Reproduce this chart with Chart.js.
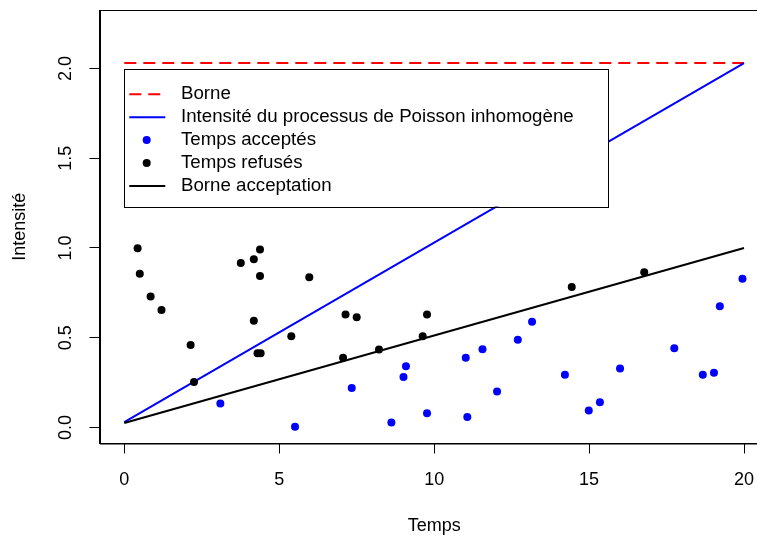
<!DOCTYPE html>
<html>
<head>
<meta charset="utf-8">
<script src="https://cdn.jsdelivr.net/npm/chart.js@4.4.1/dist/chart.umd.min.js"></script>
<style>
  html, body { margin: 0; padding: 0; background: #fff; overflow: hidden; }
  #wrap { width: 757px; height: 537px; overflow: hidden; }
</style>
</head>
<body>
<div id="wrap"><canvas id="graph" width="775" height="537"></canvas></div>
<script>
// --- données ---
const tempsAcceptesX = [3.10, 5.51, 7.34, 8.62, 9.01, 9.09, 9.77, 11.02, 11.07, 11.56, 12.03, 12.70, 13.16,
                        14.22, 14.99, 15.35, 16.00, 17.75, 18.67, 19.03, 19.22, 19.95];
const tempsAcceptesY = [0.133, 0.004, 0.220, 0.027, 0.281, 0.341, 0.079, 0.389, 0.058, 0.436, 0.200, 0.489, 0.589,
                        0.294, 0.094, 0.140, 0.328, 0.441, 0.294, 0.305, 0.675, 0.829];

const tempsRefusesX = [0.43, 0.50, 0.85, 1.20, 2.14, 2.25, 3.76, 4.18, 4.38, 4.38, 4.18, 4.30, 4.40, 5.39, 5.97,
                       7.06, 7.14, 7.50, 8.22, 9.63, 9.77, 14.44, 16.78];
const tempsRefusesY = [0.998, 0.857, 0.729, 0.655, 0.460, 0.253, 0.916, 0.937, 0.991, 0.844, 0.595, 0.413, 0.413, 0.508, 0.837,
                       0.389, 0.629, 0.614, 0.434, 0.508, 0.629, 0.783, 0.865];

const intensiteT = [0, 20];
const intensiteY = [0.03, 2.03];
const borne = 2.03;
const borneAcceptY = [0.025, 1.0];

const xTicks = [0, 5, 10, 15, 20];
const yTicks = [0, 0.5, 1, 1.5, 2];

const legendeTextes = ["Borne", "Intensité du processus de Poisson inhomogène", "Temps acceptés", "Temps refusés", "Borne acceptation"];

const police = '"Liberation Sans", Arial, sans-serif';

function points(xs, ys) {
    return xs.map((x, i) => ({ x: x, y: ys[i] }));
}

// légende style R, posée en (0, 2.0)
const legendeR = {
    id: 'legendeR',
    afterDatasetsDraw(chart) {
        const ctx = chart.ctx;
        const x0 = chart.scales.x.getPixelForValue(0);
        const y0 = chart.scales.y.getPixelForValue(2.0);
        const w = 484, h = 138;
        ctx.save();
        ctx.fillStyle = '#fff';
        ctx.fillRect(x0, y0, w, h);
        ctx.strokeStyle = '#000';
        ctx.lineWidth = 1;
        ctx.strokeRect(Math.round(x0) + 0.5, Math.round(y0) + 0.5, w, h);

        ctx.font = '18.7px ' + police;
        ctx.textBaseline = 'middle';
        ctx.textAlign = 'left';
        legendeTextes.forEach((txt, i) => {
            const y = y0 + 25.8 + i * 22.9;
            const ds = chart.data.datasets.find(d => d.label === txt);
            if (ds.showLine) {
                ctx.beginPath();
                ctx.strokeStyle = ds.borderColor;
                ctx.lineWidth = 2;
                ctx.setLineDash(ds.borderDash || []);
                ctx.moveTo(x0 + 5, y);
                ctx.lineTo(x0 + 41, y);
                ctx.stroke();
                ctx.setLineDash([]);
            } else {
                ctx.beginPath();
                ctx.fillStyle = ds.backgroundColor;
                ctx.arc(x0 + 22.4, y, 4, 0, Math.PI * 2);
                ctx.fill();
            }
            ctx.fillStyle = '#000';
            ctx.fillText(txt, x0 + 56.7, y);
        });
        ctx.restore();
    },
    afterDraw(chart) {
        // cadre complet autour du graphe
        const a = chart.chartArea;
        const ctx = chart.ctx;
        ctx.save();
        ctx.strokeStyle = '#000';
        ctx.lineWidth = 1;
        ctx.strokeRect(Math.round(a.left) + 0.5, Math.round(a.top) + 0.5, a.right - a.left, a.bottom - a.top);
        ctx.restore();
    }
};

const ctx = document.getElementById('graph').getContext('2d');
new Chart(ctx, {
    type: 'scatter',
    data: {
        datasets: [
            {
                label: 'Temps acceptés',
                data: points(tempsAcceptesX, tempsAcceptesY),
                backgroundColor: '#0000ff',
                borderWidth: 0,
                pointRadius: 4,
                order: 1
            },
            {
                label: 'Temps refusés',
                data: points(tempsRefusesX, tempsRefusesY),
                backgroundColor: '#000000',
                borderWidth: 0,
                pointRadius: 4,
                order: 2
            },
            {
                label: 'Borne acceptation',
                data: points(intensiteT, borneAcceptY),
                showLine: true,
                borderColor: '#000000',
                borderWidth: 2,
                pointRadius: 0,
                order: 3
            },
            {
                label: 'Intensité du processus de Poisson inhomogène',
                data: points(intensiteT, intensiteY),
                showLine: true,
                borderColor: '#0000ff',
                borderWidth: 2,
                pointRadius: 0,
                order: 4
            },
            {
                label: 'Borne',
                data: points(intensiteT, [borne, borne]),
                showLine: true,
                borderColor: '#ff0000',
                borderWidth: 2,
                borderDash: [12, 7],
                pointRadius: 0,
                order: 5
            }
        ]
    },
    options: {
        responsive: false,
        animation: false,
        devicePixelRatio: 1,
        layout: { padding: { top: 10, right: 6.2, left: 0, bottom: 0 } },
        plugins: {
            legend: { display: false },
            tooltip: { enabled: false }
        },
        scales: {
            x: {
                type: 'linear',
                min: -0.8,
                max: 20.8,
                afterBuildTicks: scale => { scale.ticks = xTicks.map(v => ({ value: v })); },
                afterFit: scale => {
                    scale.height = 93.5;
                    scale.paddingLeft = 0;
                    scale.paddingRight = 0;
                },
                ticks: {
                    color: '#000',
                    font: { family: police, size: 18 },
                    padding: 16,
                    maxRotation: 0,
                    autoSkip: false
                },
                grid: { drawOnChartArea: false, color: '#000', tickLength: 10 },
                border: { color: '#000', width: 1 },
                title: {
                    display: true,
                    text: 'Temps',
                    color: '#000',
                    font: { family: police, size: 18 },
                    padding: { top: 0, bottom: 0 }
                }
            },
            y: {
                type: 'linear',
                min: -0.0894,
                max: 2.326,
                afterBuildTicks: scale => { scale.ticks = yTicks.map(v => ({ value: v })); },
                afterFit: scale => {
                    scale.width = 99.5;
                    scale.paddingTop = 0;
                    scale.paddingBottom = 0;
                },
                ticks: {
                    color: '#000',
                    font: { family: police, size: 18 },
                    minRotation: 90,
                    maxRotation: 90,
                    crossAlign: 'center',
                    padding: 11,
                    autoSkip: false,
                    callback: v => v.toFixed(1)
                },
                grid: { drawOnChartArea: false, color: '#000', tickLength: 10 },
                border: { color: '#000', width: 1 },
                title: {
                    display: true,
                    text: 'Intensité',
                    color: '#000',
                    font: { family: police, size: 18 },
                    padding: { top: 9, bottom: 0 }
                }
            }
        }
    },
    plugins: [legendeR]
});
</script>
</body>
</html>
